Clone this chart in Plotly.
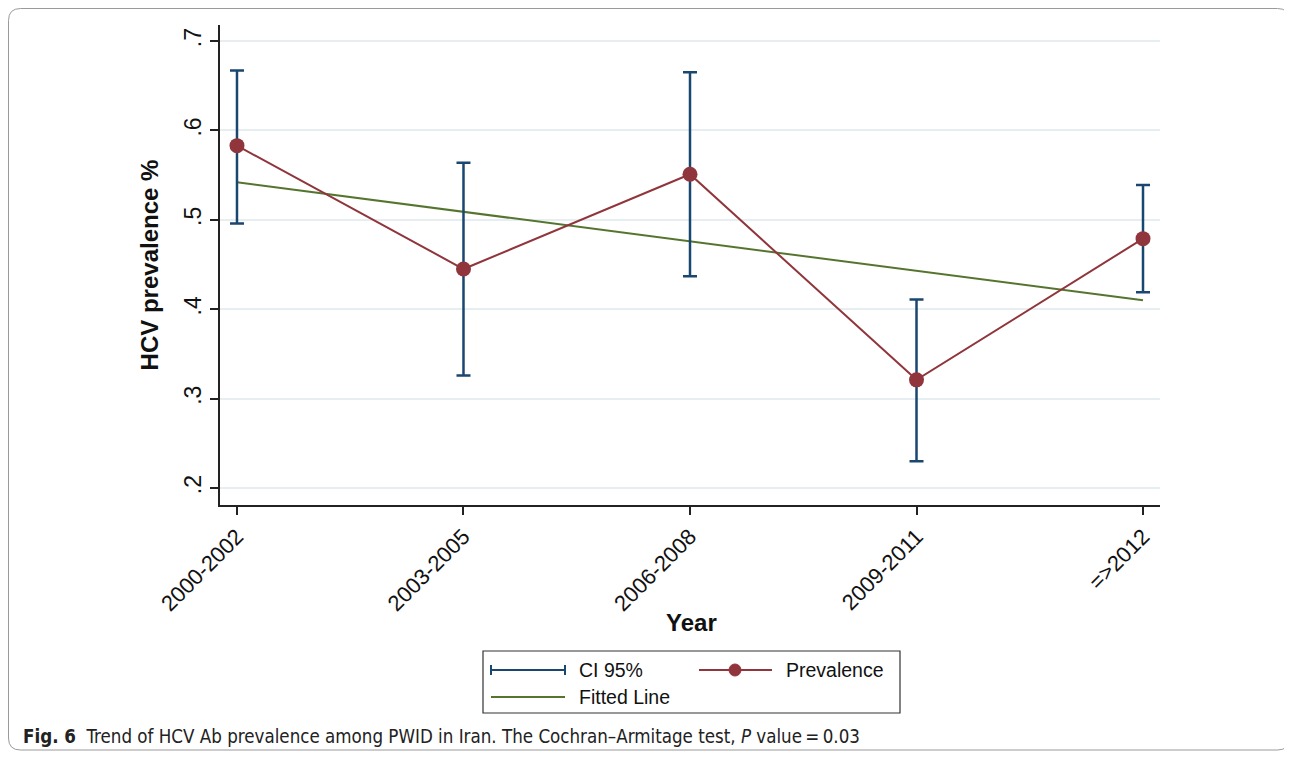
import plotly.graph_objects as go

# ---- data ----
periods = ["2000-2002", "2003-2005", "2006-2008", "2009-2011", "=>2012"]
prevalence = [0.583, 0.445, 0.551, 0.321, 0.479]
ci_lower = [0.496, 0.326, 0.437, 0.230, 0.419]
ci_upper = [0.667, 0.564, 0.665, 0.411, 0.539]
fitted = [0.542, 0.509, 0.476, 0.443, 0.410]
y_ticks = [0.2, 0.3, 0.4, 0.5, 0.6, 0.7]
y_tick_labels = [".2", ".3", ".4", ".5", ".6", ".7"]

NAVY = "#1a476f"
MAROON = "#90353b"
GREEN = "#55752f"
AXIS = "#222222"

OFF = 8  # page body margin
W, H = 1292 - OFF, 757 - OFF
L, R, T, B = 220 - OFF, 1160 - OFF, 25 - OFF, 505 - OFF


def px(x):
    x = x - OFF
    return (x - L) / (R - L)


def py(y):
    y = y - OFF
    return (B - y) / (B - T)


fig = go.Figure()

fig.add_trace(go.Scatter(
    x=periods, y=fitted, mode="lines",
    line=dict(color=GREEN, width=2), name="Fitted Line", showlegend=False,
))
fig.add_trace(go.Scatter(
    x=periods, y=prevalence, mode="markers",
    marker=dict(size=1, color="rgba(0,0,0,0)"),
    error_y=dict(type="data", symmetric=False,
                 array=[u - p for u, p in zip(ci_upper, prevalence)],
                 arrayminus=[p - l for p, l in zip(prevalence, ci_lower)],
                 color=NAVY, thickness=2.5, width=7),
    name="CI 95%", showlegend=False, hoverinfo="skip",
))
fig.add_trace(go.Scatter(
    x=periods, y=prevalence, mode="lines+markers",
    line=dict(color=MAROON, width=2),
    marker=dict(size=15, color=MAROON),
    name="Prevalence", showlegend=False,
))

shapes = []
# outer rounded border
x0, x1, y0, y1 = 8.5, 1289.5, 8.5, 750
r = 12
path = (f"M {px(x0 + r)},{py(y0)} L {px(x1 - r)},{py(y0)} "
        f"Q {px(x1)},{py(y0)} {px(x1)},{py(y0 + r)} "
        f"L {px(x1)},{py(y1 - r)} Q {px(x1)},{py(y1)} {px(x1 - r)},{py(y1)} "
        f"L {px(x0 + r)},{py(y1)} Q {px(x0)},{py(y1)} {px(x0)},{py(y1 - r)} "
        f"L {px(x0)},{py(y0 + r)} Q {px(x0)},{py(y0)} {px(x0 + r)},{py(y0)} Z")
shapes.append(dict(type="path", path=path, xref="paper", yref="paper",
                   line=dict(color="#9a9a9a", width=1)))

# legend box
shapes.append(dict(type="rect", xref="paper", yref="paper",
                   x0=px(483), x1=px(900), y0=py(651), y1=py(713),
                   line=dict(color="#333333", width=1.2), fillcolor="white"))
# CI symbol
ly1, ly2 = 670, 697
shapes.append(dict(type="line", xref="paper", yref="paper",
                   x0=px(491), x1=px(565), y0=py(ly1), y1=py(ly1),
                   line=dict(color=NAVY, width=2)))
for xc in (491, 565):
    shapes.append(dict(type="line", xref="paper", yref="paper",
                       x0=px(xc), x1=px(xc), y0=py(ly1 - 5), y1=py(ly1 + 5),
                       line=dict(color=NAVY, width=2)))
# Prevalence symbol
shapes.append(dict(type="line", xref="paper", yref="paper",
                   x0=px(699), x1=px(772), y0=py(ly1), y1=py(ly1),
                   line=dict(color=MAROON, width=2)))
shapes.append(dict(type="circle", xref="paper", yref="paper",
                   x0=px(729), x1=px(741), y0=py(ly1 - 6), y1=py(ly1 + 6),
                   line=dict(color=MAROON, width=1), fillcolor=MAROON))
# Fitted symbol
shapes.append(dict(type="line", xref="paper", yref="paper",
                   x0=px(491), x1=px(565), y0=py(ly2), y1=py(ly2),
                   line=dict(color=GREEN, width=2)))

LEGF = dict(family="Liberation Sans, Arial, sans-serif", size=19.5, color="#111111")
annotations = [
    dict(text="<b>Year</b>", x=px(691), y=py(622), xref="paper", yref="paper",
         xanchor="center", yanchor="middle", showarrow=False,
         font=dict(family="Liberation Sans, Arial, sans-serif", size=24, color="#111111")),
    dict(text="CI 95%", x=px(577), y=py(ly1), xref="paper", yref="paper",
         xanchor="left", yanchor="middle", showarrow=False, font=LEGF),
    dict(text="Prevalence", x=px(784), y=py(ly1), xref="paper", yref="paper",
         xanchor="left", yanchor="middle", showarrow=False, font=LEGF),
    dict(text="Fitted Line", x=px(577), y=py(ly2), xref="paper", yref="paper",
         xanchor="left", yanchor="middle", showarrow=False, font=LEGF),
    dict(text="<b>Fig. 6</b>  Trend of HCV Ab prevalence among PWID in Iran. "
              "The Cochran\u2013Armitage test, <i>P</i> value\u2009=\u20090.03",
         x=px(21), y=py(736), xref="paper", yref="paper",
         xanchor="left", yanchor="middle", showarrow=False,
         font=dict(family="DejaVu Sans Condensed, Liberation Sans Narrow, sans-serif",
                   size=18.6, color="#222222")),
]

fig.update_layout(
    width=W, height=H,
    margin=dict(l=L, r=W - R, t=T, b=H - B, pad=0),
    paper_bgcolor="white", plot_bgcolor="white",
    showlegend=False,
    shapes=shapes, annotations=annotations,
    font=dict(family="Liberation Sans, Arial, sans-serif", color="#111111"),
    xaxis=dict(
        type="category", range=[-0.075, 4.075],
        showline=True, linecolor=AXIS, linewidth=2, mirror=False,
        ticks="outside", ticklen=8, tickwidth=2, tickcolor=AXIS,
        tickangle=-45, tickfont=dict(size=22),
        showgrid=False, zeroline=False,
    ),
    yaxis=dict(
        range=[0.181, 0.718],
        tickvals=y_ticks, ticktext=y_tick_labels,
        showline=True, linecolor=AXIS, linewidth=2,
        ticks="outside", ticklen=8, tickwidth=2, tickcolor=AXIS,
        tickangle=-90, tickfont=dict(size=23),
        showgrid=True, gridcolor="#e6eef2", gridwidth=2,
        zeroline=False,
        title=dict(text="<b>HCV prevalence %</b>", font=dict(size=24), standoff=14),
    ),
)

fig.write_html("out.html")
